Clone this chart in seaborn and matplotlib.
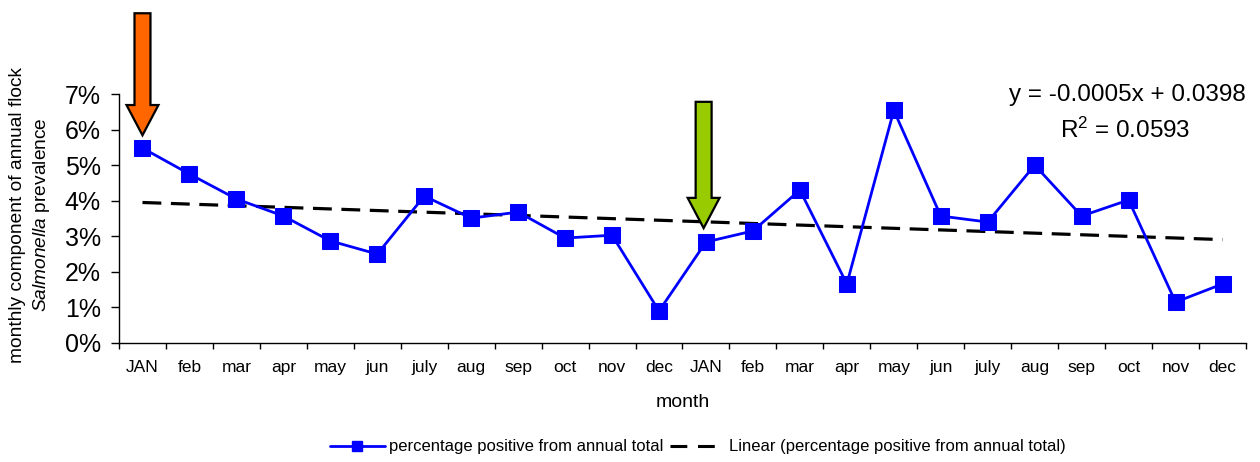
import numpy as np
import pandas as pd
import matplotlib
matplotlib.use("Agg")
import matplotlib.pyplot as plt
from matplotlib.patches import FancyArrow
from matplotlib.lines import Line2D
import seaborn as sns

months = ["JAN", "feb", "mar", "apr", "may", "jun", "july", "aug", "sep", "oct", "nov", "dec",
          "JAN", "feb", "mar", "apr", "may", "jun", "july", "aug", "sep", "oct", "nov", "dec"]
pct_positive = [0.0548, 0.0475, 0.0405, 0.0357, 0.0287, 0.0250, 0.0413, 0.0351, 0.0368, 0.0295,
                0.0303, 0.0090, 0.0284, 0.0315, 0.0430, 0.0166, 0.0654, 0.0357, 0.0340, 0.0500,
                0.0357, 0.0402, 0.0115, 0.0166]
equation_text = "y = -0.0005x + 0.0398"
r2_text = "R$^{2}$ = 0.0593"
series_label = "percentage positive from annual total"
trend_label = "Linear (percentage positive from annual total)"

sns.set_style("white")
plt.rcParams['font.family'] = ['Liberation Sans', 'DejaVu Sans']
plt.rcParams['mathtext.fontset'] = 'custom'
plt.rcParams['mathtext.rm'] = 'Liberation Sans'
plt.rcParams['mathtext.it'] = 'Liberation Sans:italic'
plt.rcParams['text.color'] = 'black'
plt.rcParams['axes.labelcolor'] = 'black'
plt.rcParams['xtick.color'] = 'black'
plt.rcParams['ytick.color'] = 'black'

df = pd.DataFrame({"idx": np.arange(len(months)), "month": months, "value": pct_positive})
xn = np.arange(1, len(months) + 1)
slope, intercept = np.polyfit(xn, df["value"], 1)
df["trend"] = slope * xn + intercept

fig = plt.figure(figsize=(12.6, 4.62), dpi=100)
ax = fig.add_axes([119/1260, 1 - 343/462, (1246 - 119)/1260, (343 - 94)/462])

sns.lineplot(data=df, x="idx", y="trend", ax=ax, color="black", lw=2.3,
             dashes=False, zorder=2)
ax.lines[-1].set_dashes((5.9, 3))
sns.lineplot(data=df, x="idx", y="value", ax=ax, color="#0000FF", lw=2.0,
             marker="s", markersize=11, markeredgecolor="#0000FF", zorder=3)

ax.set_xlim(-0.5, len(months) - 0.5)
ax.set_ylim(0, 0.07)
ax.set_yticks(np.arange(0, 0.071, 0.01))
ax.set_yticklabels([f"{int(round(v*100))}%" for v in np.arange(0, 0.071, 0.01)], fontsize=18)
ax.set_xticks(np.arange(-0.5, len(months), 1.0))
ax.set_xticklabels([])
ax.set_xticks(np.arange(len(months)), minor=True)
ax.set_xticklabels(months, minor=True, fontsize=12.5)
ax.tick_params(axis="x", which="major", direction="out", length=4, width=1, color="black", bottom=True)
ax.tick_params(axis="x", which="minor", length=0, pad=12)
ax.tick_params(axis="y", direction="out", length=6, width=1, color="black", left=True, pad=7)

for s in ["top", "right"]:
    ax.spines[s].set_visible(False)
for s in ["left", "bottom"]:
    ax.spines[s].set_color("black")
    ax.spines[s].set_linewidth(1)

ax.set_xlabel("month", fontsize=14, labelpad=14)
ax.set_ylabel("")
fig.text(18/1260, 1 - 215/462, "monthly component of annual flock", rotation=90,
         ha="center", va="center", fontsize=13.8)
fig.text(42/1260, 1 - 215/462, r"$\it{Salmonella}$ prevalence", rotation=90,
         ha="center", va="center", fontsize=13.8)

fig.text(1246/1260, 1 - 95/462, equation_text, ha="right", va="center", fontsize=17.5)
fig.text(1125/1260, 1 - 130/462, r2_text, ha="center", va="center", fontsize=17.5)

# arrows
def arrow(xc, ytop, ytip, color):
    a = FancyArrow(xc, ytop, 0, ytip - ytop, width=0.34, head_width=0.68,
                   head_length=0.0085, length_includes_head=True,
                   facecolor=color, edgecolor="black", lw=1.6, clip_on=False, zorder=5)
    ax.add_patch(a)

arrow(0, 0.0927, 0.0584, "#FF6600")
arrow(12.0 - 0.05, 0.0678, 0.0323, "#99CC00")

handles = [Line2D([0], [0], color="#0000FF", lw=2.0, marker="s", markersize=7),
           Line2D([0], [0], color="black", lw=2.2, dashes=(5.5, 3.5))]
fig.legend(handles, [series_label, trend_label], loc="center", bbox_to_anchor=(698/1260, 1 - 447/462),
           ncol=2, frameon=False, fontsize=12, handlelength=3.3, columnspacing=0.4, handletextpad=0.25)

fig.savefig("out.png", dpi=100)
